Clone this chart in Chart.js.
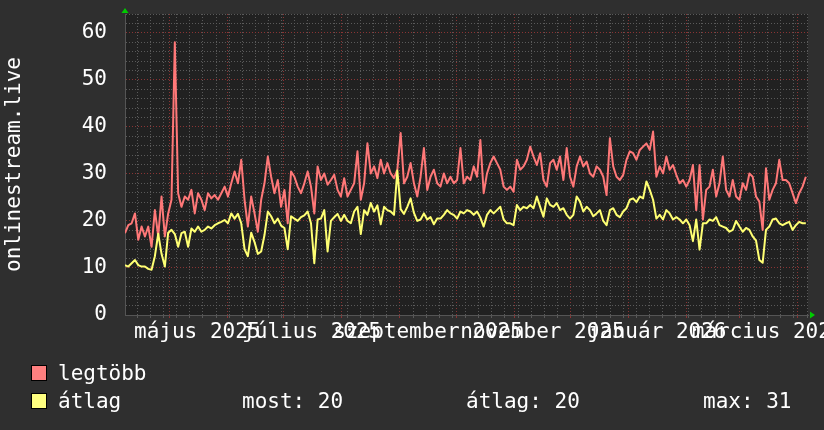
<!DOCTYPE html>
<html lang="hu">
<head>
<meta charset="utf-8">
<title>onlinestream.live</title>
<script src="https://cdn.jsdelivr.net/npm/chart.js@4.4.1/dist/chart.umd.min.js"></script>
<style>
  body { margin: 0; background: #2f2f2f; }
  #caja { position: relative; width: 824px; height: 430px; background: #2f2f2f;
          font-family: 'DejaVu Sans Mono', monospace; font-size: 21px; color: #fff; }
  .cuadro { position: absolute; left: 31px; width: 14px; height: 14px; border: 1px solid #000; }
  .txt { position: absolute; line-height: 24px; white-space: pre; }
</style>
</head>
<body>
<div id="caja">
  <canvas id="grafico"></canvas>
  <div class="cuadro" style="top:365px;background:#ff8080"></div>
  <div class="txt" style="left:58px;top:361px">legtöbb</div>
  <div class="cuadro" style="top:393px;background:#ffff80"></div>
  <div class="txt" style="left:58px;top:389px">átlag</div>
  <div class="txt" id="most" style="left:242px;top:389px"></div>
  <div class="txt" id="prom" style="left:466px;top:389px"></div>
  <div class="txt" id="maxi" style="left:703px;top:389px"></div>
</div>
<script>
// valores (un punto cada ~1.77 dias)
const legtobb = [17.4, 19.1, 19.5, 21.6, 16, 18.8, 16.7, 18.8, 14.5, 22.3,
  16.7, 25.2, 16.7, 21.6, 24.5, 58, 25.9, 23, 25.2, 24.5,
  26.6, 21.6, 25.9, 24.5, 22.3, 25.9, 24.8, 25.5, 24.5, 25.9,
  27.3, 25.2, 28, 30.5, 28, 33, 24.5, 18.8, 25.2, 21.6,
  17.7, 24.5, 28, 33.7, 29.4, 25.9, 28.7, 23, 26.6, 19.5,
  30.5, 29.4, 27.3, 25.9, 28, 30.5, 27.3, 21.6, 31.6, 28.7,
  30.1, 27.7, 28.7, 29.8, 26.6, 25.2, 29.1, 25.2, 26.6, 28,
  34.8, 24.5, 28, 36.5, 30.1, 31.6, 29.1, 33, 30.1, 32.3,
  30.1, 29.1, 30.9, 38.7, 28, 29.4, 32.3, 28, 25.2, 29.4,
  35.5, 26.6, 29.4, 30.9, 28, 27.3, 30.1, 28, 29.4, 28,
  28.7, 35.5, 28, 29.4,
  28.7, 31.6, 29.4, 37.2, 25.9, 30.1, 32.3, 33.7, 32.3, 30.9,
  27.3, 26.6, 27.3, 26.2, 33, 30.9, 31.6, 33, 35.8, 33.7,
  31.9, 34.4, 28.7, 27.3, 32.3, 33, 30.9, 33.7, 28.7, 35.5,
  29.4, 27.3, 31.6, 33.7, 31.6, 32.6, 30.1, 29.4, 31.6, 30.9,
  29.4, 25.5, 37.6, 31.6, 29.4, 28.7, 29.8, 33, 34.8, 34.4,
  33, 35.1, 35.8, 36.5, 35.1, 39, 29.4, 31.6, 30.1, 33.7,
  30.9, 31.9, 29.8, 28, 28.7, 27.3, 28.7, 31.9, 22.3, 31.9,
  20.3, 26.6, 27.3, 30.9, 25.2, 28, 33.7, 26.6, 25.2, 28.7,
  25.2, 24.5, 28, 26.6, 30.1, 29.4, 25.2, 24.1, 18.1, 31.2,
  24.5, 26.6, 28, 33, 28.7, 28.7, 28, 25.9, 23.8, 25.9,
  27.3, 29.4];

const atlag = [10.6, 10.3, 11, 11.7, 10.6, 10.3, 10.3, 9.8, 9.6, 12.5,
  17.3, 13, 10.3, 17.5, 18.1, 17.2, 14.5, 17.4, 17.7, 14.5,
  18.4, 17.7, 18.8, 17.7, 18.1, 18.8, 18.4, 19.1, 19.5, 19.8,
  20.2, 19.5, 21.6, 20.5, 21.5, 19.5, 14, 12.5, 17.5, 15.5,
  13, 13.5, 17, 22, 21, 19.5, 20.5, 19, 18.5, 14,
  21, 20.5, 20, 20.8, 21.2, 22, 19.5, 11, 20.3, 20.5,
  22.3, 13.5, 20, 20.8, 21.5, 20, 21.3, 20, 19.5, 22,
  23, 17.2, 22.3, 21.3, 23.8, 22, 23.3, 19.3, 23, 22.3,
  22, 21.3, 30.7, 22.5, 21.5, 23, 24.8, 21.7, 20, 20.3,
  21.6, 20.3, 20.8, 19.3, 20.5, 20.5, 21.3, 22.3, 21.6, 21.3,
  20.5, 22, 21.6, 22.3,
  22, 21.3, 22, 20.7, 18.8, 21.3, 22.3, 21.6, 22.3, 23,
  20.3, 19.5, 19.5, 19.1, 23.4, 22.3, 23, 22.7, 23.4, 22.7,
  25.2, 23, 20.9, 24.8, 23.4, 23, 23.8, 22.3, 22.7, 21.3,
  20.5, 21.3, 25.2, 24.1, 22, 23, 22.3, 21, 21.6, 22.3,
  20, 19.1, 22.3, 22.7, 21.3, 20.8, 22, 22.7, 24.5, 24.8,
  24, 25.2, 24.8, 28.4, 26.6, 24.5, 20.5, 21.3, 20.3, 22.3,
  21.6, 20.3, 20.8, 20.3, 19.5, 20.3, 19.1, 15.7, 20.3, 13.9,
  19.5, 19.5, 20.3, 20, 20.8, 19.1, 18.8, 18.5, 17.7, 18.1,
  20, 18.8, 17.7, 18.5, 18.1, 16.7, 15.8, 11.7, 11.1, 18.1,
  18.8, 20.3, 20.5, 19.5, 19.1, 19.5, 19.8, 18.1, 19.1, 19.8,
  19.5, 19.5];

// eje x: etiquetas cada dos meses (mes contado desde enero 2025)
const etiquetasX = ['május 2025', 'július 2025', 'szeptember 2025', 'november 2025', 'január 2026', 'március 2026'];
const mesesEtiqueta = [4, 6, 8, 10, 12, 14];
const etiquetaY = 'onlinestream.live';

const inicio = Date.UTC(2025, 3, 7, 12);   // borde izquierdo
const DIA = 86400000;
const paso = 1.77;                         // dias entre muestras
const diasTotal = 364;
const aDias = (a, m, d) => (Date.UTC(a, m, d) - inicio) / DIA;

const rojoGrid = '#8a3434';
const grisGrid = '#5a5a5a';

Chart.defaults.font.family = "'DejaVu Sans Mono', monospace";
Chart.defaults.font.size = 21;
Chart.defaults.color = '#ffffff';

function ticksEjeX() {
  const t = [];
  for (let d = aDias(2025, 3, 14); d <= diasTotal; d += 7) t.push({ value: d, tipo: 'semana' });
  for (let m = 4; m <= 15; m++) t.push({ value: aDias(2025, m, 1), tipo: 'mes' });
  mesesEtiqueta.forEach((m, i) => t.push({ value: aDias(2025, m, 16), tipo: 'etiqueta', texto: etiquetasX[i] }));
  return t.sort((a, b) => a.value - b.value);
}

// fondo del area de datos y las flechitas verdes
const fondoPlot = {
  id: 'fondoPlot',
  beforeDraw(chart) {
    const { ctx, chartArea: a } = chart;
    ctx.save();
    ctx.fillStyle = '#212121';
    ctx.fillRect(a.left, a.top, a.right - a.left, a.bottom - a.top);
    ctx.restore();
  },
  afterDraw(chart) {
    const { ctx, chartArea: a } = chart;
    ctx.save();
    ctx.fillStyle = '#00cc00';
    ctx.beginPath();
    ctx.moveTo(a.left - 3.5, a.top - 1);
    ctx.lineTo(a.left + 3.5, a.top - 1);
    ctx.lineTo(a.left, a.top - 6);
    ctx.fill();
    ctx.beginPath();
    ctx.moveTo(a.right + 2, a.bottom - 3.5);
    ctx.lineTo(a.right + 2, a.bottom + 3.5);
    ctx.lineTo(a.right + 7, a.bottom);
    ctx.fill();
    ctx.restore();
  }
};

new Chart(document.getElementById('grafico'), {
  type: 'line',
  data: {
    datasets: [{
      label: 'legtöbb',
      data: legtobb.map((v, i) => ({ x: i * paso, y: v })),
      borderColor: '#ff7878',
      borderWidth: 2,
      pointRadius: 0,
      borderJoinStyle: 'round',
      order: 2
    },
    {
      label: 'átlag',
      data: atlag.map((v, i) => ({ x: i * paso, y: v })),
      borderColor: '#ffff73',
      borderWidth: 2,
      pointRadius: 0,
      borderJoinStyle: 'round',
      order: 1
    }]
  },
  options: {
    responsive: true,
    maintainAspectRatio: false,
    animation: false,
    layout: { padding: { top: 14, right: 16, bottom: 0, left: 0 } },
    plugins: {
      legend: { display: false },
      tooltip: { enabled: false }
    },
    scales: {
      x: {
        type: 'linear',
        min: 0,
        max: diasTotal,
        afterBuildTicks: (scale) => { scale.ticks = ticksEjeX(); },
        afterFit: (scale) => { scale.height = 115; scale.paddingLeft = 0; scale.paddingRight = 0; },
        ticks: {
          autoSkip: false,
          maxRotation: 0,
          minRotation: 0,
          padding: 2,
          callback: (v, i, ts) => ts[i].texto || ''
        },
        grid: {
          color: (c) => !c.tick ? grisGrid : c.tick.tipo === 'mes' ? rojoGrid : c.tick.tipo === 'semana' ? grisGrid : 'rgba(0,0,0,0)',
          drawTicks: true,
          tickLength: 3
        },
        border: { display: true, color: '#555555', dash: [1, 2] }
      },
      y: {
        min: 0,
        max: 64,
        afterFit: (scale) => { scale.width = 125; scale.paddingTop = 0; scale.paddingBottom = 0; },
        ticks: {
          stepSize: 2,
          autoSkip: false,
          maxTicksLimit: 100,
          padding: 18,
          callback: (v) => v % 10 === 0 ? v : ''
        },
        grid: {
          color: (c) => c.tick && c.tick.value % 10 === 0 ? rojoGrid : grisGrid,
          drawTicks: false
        },
        border: { display: true, color: '#555555', dash: [1, 2] },
        title: { display: true, text: etiquetaY, font: { size: 21 }, padding: { top: 2, bottom: 0 } }
      }
    }
  },
  plugins: [fondoPlot]
});

// textos de la leyenda sacados de la serie átlag
const ultimo = atlag[atlag.length - 1];
const promedio = atlag.reduce((s, v) => s + v, 0) / atlag.length;
document.getElementById('most').textContent = 'most: ' + Math.round(ultimo);
document.getElementById('prom').textContent = 'átlag: ' + Math.round(promedio);
document.getElementById('maxi').textContent = 'max: ' + Math.round(Math.max(...atlag));
</script>
</body>
</html>
